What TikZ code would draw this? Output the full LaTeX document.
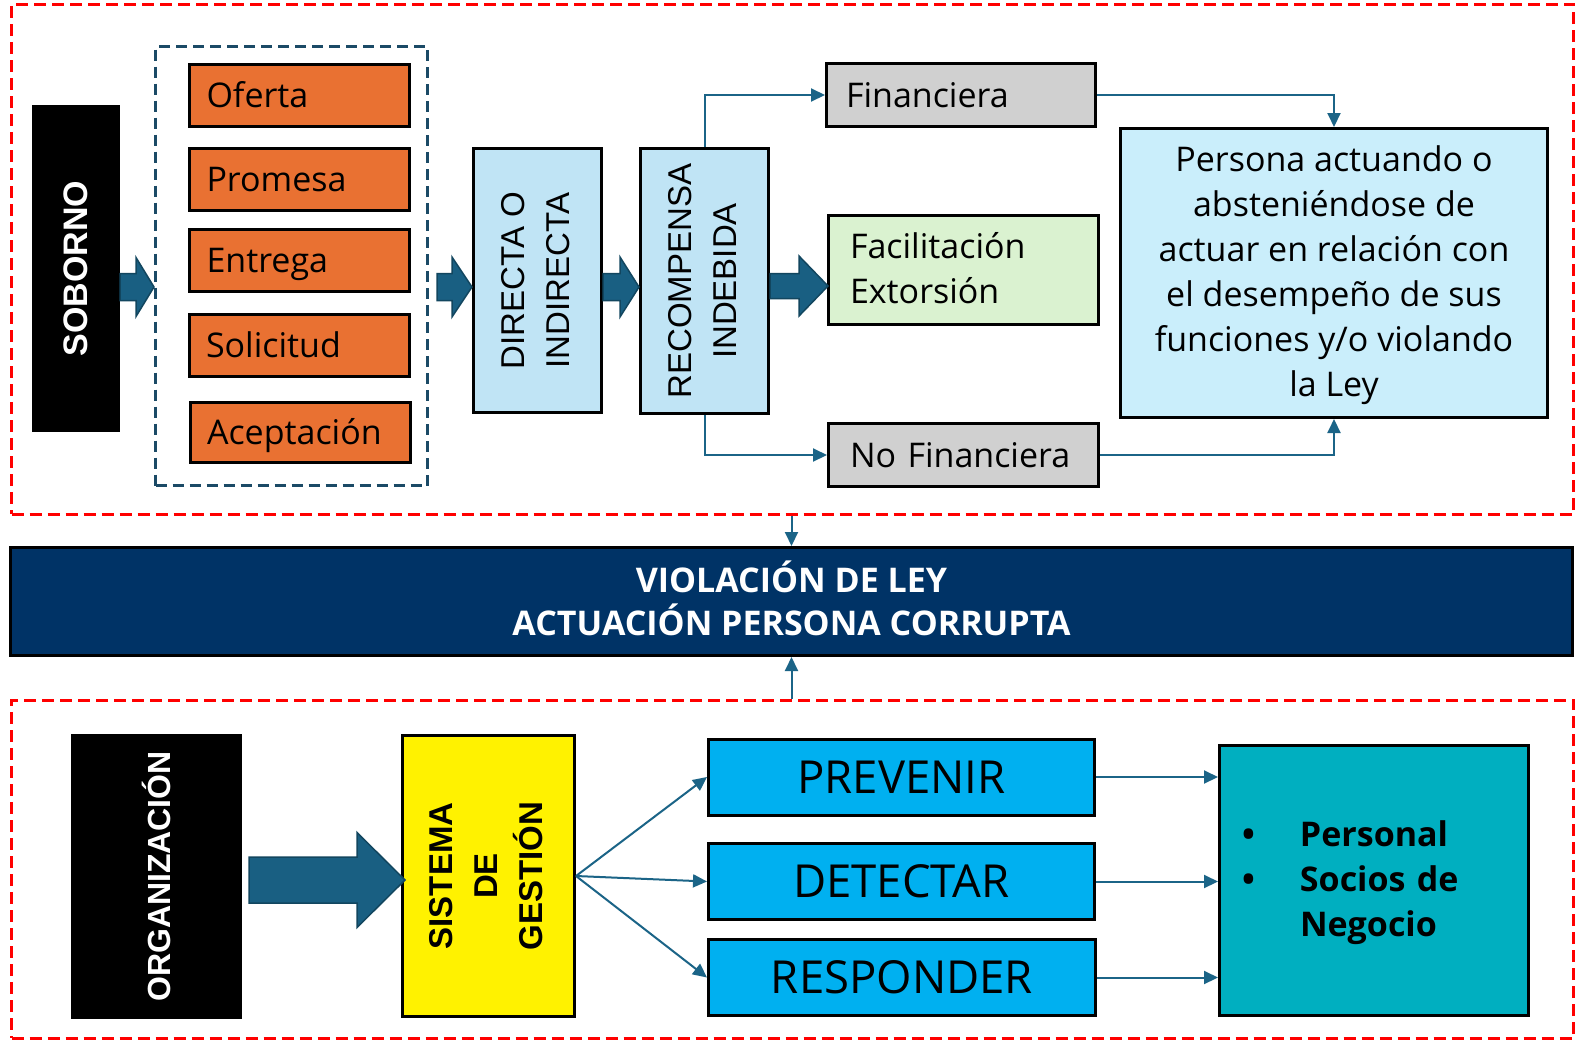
\documentclass[tikz,border=0pt]{standalone}
\usepackage{fontspec}
\setmainfont{Open Sans}
\newfontfamily\arialf{Liberation Sans}
\usepackage{graphicx}
\usetikzlibrary{arrows.meta,calc}
\definecolor{orangec}{HTML}{E97132}
\definecolor{dirblue}{HTML}{C0E4F5}
\definecolor{perblue}{HTML}{CAEEFB}
\definecolor{greyc}{HTML}{D0D0D0}
\definecolor{greenc}{HTML}{DAF2D0}
\definecolor{navyc}{HTML}{003366}
\definecolor{cyanc}{HTML}{00B0F0}
\definecolor{tealc}{HTML}{00AFC0}
\definecolor{dashc}{HTML}{1B4A66}
\definecolor{connc}{HTML}{1B6487}
\definecolor{fatfill}{HTML}{195F82}
\definecolor{fatdraw}{HTML}{12465F}
\newcommand\fatarrow[8]{%
 \path[fatarr] let \p1=(#1.east), \p2=(#2.west) in
 ({\x1+#7},#3-#4) -- ({\x2+#8-#6},#3-#4) -- ({\x2+#8-#6},#3-#5) -- ({\x2+#8},#3) --
 ({\x2+#8-#6},#3+#5) -- ({\x2+#8-#6},#3+#4) -- ({\x1+#7},#3+#4) -- cycle;}
\tikzset{
 box/.style={draw=black, line width=3pt, inner sep=0pt},
 obox/.style={box, fill=orangec, text width=186pt, inner xsep=17pt, align=left,
   minimum height=62pt, font=\fontsize{34}{45}\selectfont, text height=24.5pt, text depth=0pt},
 vbox/.style={box, fill=dirblue, minimum width=128pt, minimum height=264pt,
   font=\arialf\fontsize{33}{45}\selectfont},
 gbox/.style={box, align=left, font=\fontsize{34}{45}\selectfont},
 abox/.style={box, fill=cyanc, minimum width=386pt, minimum height=76pt,
   font=\fontsize{45.5}{50}\selectfont, text height=32.5pt, text depth=0pt},
 reddash/.style={draw=red, line width=3pt, dash pattern=on 12pt off 6pt, inner sep=0pt},
 conn/.style={draw=connc, line width=2pt, -{Triangle[length=14pt,width=13pt]}},
 fatarr/.style={fill=fatfill, draw=fatdraw, line width=1.5pt, line join=miter},
}
\begin{document}
\begin{tikzpicture}[x=1pt,y=-1pt]
\useasboundingbox (0,0) rectangle (1580,1047);
\fill[white] (0,0) rectangle (1580,1047);
% regions
\node[reddash, minimum width=1562pt, minimum height=510pt] (topreg) at (792.5,259) {};
\node[reddash, minimum width=1562pt, minimum height=338pt] (botreg) at (792.5,869) {};
% top part
\node[fill=black, minimum width=88pt, minimum height=327pt, inner sep=0pt, text=white,
  font=\arialf\bfseries\fontsize{34}{40}\selectfont] (sob) at (76,268.5) {\rotatebox{90}{SOBORNO}};
\node[draw=dashc, line width=3pt, dash pattern=on 11pt off 6pt, minimum width=272pt,
  minimum height=439pt] (dash) at (291.5,266) {};
\node[obox] (ofe) at (299.5,95.5) {Oferta};
\node[obox] (pro) at (299.5,179.5) {Promesa};
\node[obox] (ent) at (299.5,260.5) {Entrega};
\node[obox] (sol) at (299,345.5) {Solicitud};
\node[obox, minimum height=60pt] (ace) at (300,432.5) {Aceptación};
\node[vbox] (dir) at (537.5,280.5) {\rotatebox{90}{\begin{tabular}{@{}c@{}}DIRECTA O\\INDIRECTA\end{tabular}}};
\node[vbox, minimum height=265pt] (rec) at (704.5,281) {\rotatebox{90}{\begin{tabular}{@{}c@{}}RECOMPENSA\\INDEBIDA\end{tabular}}};
\node[gbox, fill=greyc, text width=230pt, inner xsep=19.5pt, minimum height=63pt, text height=24.5pt, text depth=0pt] (fin) at (961,95) {Financiera};
\node[gbox, fill=greenc, text width=227pt, inner xsep=21.5pt, minimum height=109pt] (fac) at (963.5,270) {Facilitación\\Extorsión\rule[-5pt]{0pt}{0pt}};
\node[gbox, fill=greyc, text width=227pt, inner xsep=21.5pt, minimum height=63pt, text height=24.5pt, text depth=0pt] (nofin) at (963.5,455) {No Financiera};
\node[box, fill=perblue, minimum width=427pt, minimum height=289pt, align=center,
  font=\fontsize{34}{45}\selectfont] (per) at (1334,273)
  {\rule{0pt}{31pt}Persona actuando o\\absteniéndose de\\actuar en relación con\\el desempeño de sus\\funciones y/o violando\\la Ley};
% arrows top
\fatarrow{sob}{dash}{287}{13.5}{29.5}{18}{0}{0}
\fatarrow{dash}{dir}{287}{13.5}{30}{20}{8}{0}
\fatarrow{dir}{rec}{287}{13.5}{30}{19}{0}{0}
\fatarrow{rec}{fac}{286}{12.5}{30}{29}{0}{1}
\draw[conn] (rec.north) |- (fin.west);
\draw[conn] (rec.south) |- (nofin.west);
\draw[conn] (fin.east) -| (per.north);
\draw[conn] (nofin.east) -| (per.south);
% middle
\node[box, fill=navyc, text=white, minimum width=1562pt, minimum height=108pt, align=center,
  font=\bfseries\fontsize{34}{43}\selectfont] (viol) at (791.5,601.5)
  {VIOLACIÓN DE LEY\\ACTUACIÓN PERSONA CORRUPTA\rule[-6pt]{0pt}{0pt}};
\draw[conn] (viol.north |- topreg.south) -- (viol.north);
\draw[conn] (viol.south |- botreg.north) -- (viol.south);
% bottom
\node[fill=black, minimum width=171pt, minimum height=285pt, inner sep=0pt, text=white,
  font=\arialf\bfseries\fontsize{32}{40}\selectfont] (org) at (156.5,876.5) {\rotatebox{90}{ORGANIZACIÓN}};
\node[box, fill=yellow, minimum width=172pt, minimum height=281pt,
  font=\arialf\bfseries\fontsize{33}{45}\selectfont] (sis) at (488.5,876)
  {\rotatebox{90}{\begin{tabular}{@{}c@{}}SISTEMA\\DE\\GESTIÓN\end{tabular}}};
\node[abox] (prev) at (901.5,777) {PREVENIR};
\node[abox] (det) at (901.5,881.5) {DETECTAR};
\node[abox, minimum width=387pt] (resp) at (902,977.5) {RESPONDER};
\node[box, fill=tealc, minimum width=309pt, minimum height=270pt, text width=264pt,
  inner xsep=22.5pt, align=left, font=\bfseries\fontsize{34}{45}\selectfont] (pers) at (1374,880.5)
  {\rule{0pt}{31pt}\makebox[58pt][l]{\textbullet}Personal\\\makebox[58pt][l]{\textbullet}Socios de\\\hspace*{58pt}Negocio};
\fatarrow{org}{sis}{880}{23}{47.5}{48}{7}{4}
\draw[conn] (sis.east) -- (prev.west);
\draw[conn] (sis.east) -- (det.west);
\draw[conn] (sis.east) -- (resp.west);
\draw[conn] (prev.east) -- (prev.east -| pers.west);
\draw[conn] (det.east) -- (det.east -| pers.west);
\draw[conn] (resp.east) -- (resp.east -| pers.west);
\end{tikzpicture}
\end{document}
